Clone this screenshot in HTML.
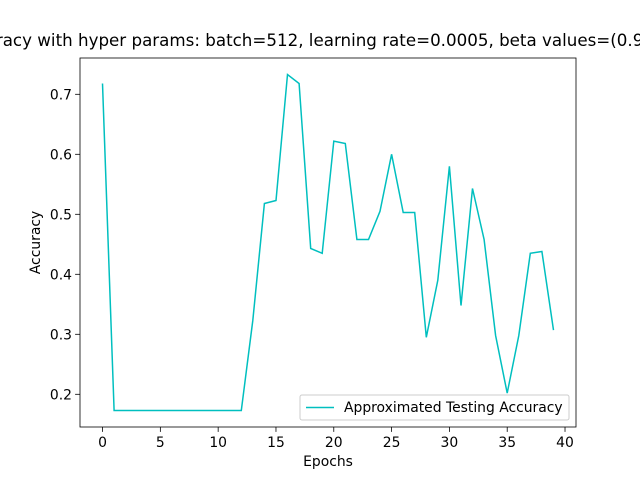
<!DOCTYPE html>
<html><head><meta charset="utf-8"><style>
body{margin:0;background:#fff}
svg text{font-family:"DejaVu Sans","Liberation Sans",sans-serif;fill:#000}
</style></head><body>
<svg id="chart" width="640" height="480" xmlns="http://www.w3.org/2000/svg">
<rect width="640" height="480" fill="#fff"/>
<text x="332" y="46" font-size="16.7" text-anchor="middle">Accuracy with hyper params: batch=512, learning rate=0.0005, beta values=(0.9, 0.999)</text>
<g id="axes"></g>
</svg>
<script>
const epochs = [0,1,2,3,4,5,6,7,8,9,10,11,12,13,14,15,16,17,18,19,20,21,22,23,24,25,26,27,28,29,30,31,32,33,34,35,36,37,38,39];
const accuracy = [0.718,0.173,0.173,0.173,0.173,0.173,0.173,0.173,0.173,0.173,0.173,0.173,0.173,0.323,0.518,0.523,0.733,0.718,0.443,0.435,0.622,0.618,0.458,0.458,0.505,0.6,0.503,0.503,0.295,0.39,0.58,0.348,0.543,0.458,0.298,0.202,0.298,0.435,0.438,0.307];
const xTicks = [0,5,10,15,20,25,30,35,40];
const yTicks = [0.2,0.3,0.4,0.5,0.6,0.7];

const L=80,R=576,T=58,B=427;
const xMin=-1.95,xMax=40.95,yMin=0.1455,yMax=0.7605;
const sx=v=>L+(v-xMin)/(xMax-xMin)*(R-L);
const sy=v=>B-(v-yMin)/(yMax-yMin)*(B-T);
const NS="http://www.w3.org/2000/svg";
const g=document.getElementById('axes');
function mk(tag,attrs){const e=document.createElementNS(NS,tag);for(const k in attrs)e.setAttribute(k,attrs[k]);g.appendChild(e);return e;}

xTicks.forEach(t=>{
  const x=sx(t);
  const tk=mk('line',{x1:x,x2:x,y1:B,y2:B+4.9,stroke:'#000','stroke-width':0.8});
  
  
  const lb=mk('text',{x:x,y:447,'text-anchor':'middle','font-size':13.9});
  lb.textContent=t;
  
  
});
yTicks.forEach(t=>{
  const y=sy(t);
  const tk=mk('line',{x1:L-4.9,x2:L,y1:y,y2:y,stroke:'#000','stroke-width':0.8});
  
  
  const lb=mk('text',{x:L-8,y:y+5,'text-anchor':'end','font-size':13.9});
  lb.textContent=t.toFixed(1);
  
  
});

const pts=epochs.map((e,i)=>sx(e).toFixed(1)+','+sy(accuracy[i]).toFixed(1)).join(' ');
const line=mk('polyline',{points:pts,fill:'none',stroke:'#00bfbf','stroke-width':1.5});



const frame=mk('rect',{x:L,y:T,width:R-L,height:B-T,fill:'none',stroke:'#000','stroke-width':0.8});



const xl=mk('text',{x:(L+R)/2,y:466,'text-anchor':'middle','font-size':13.9});
xl.textContent='Epochs';


const yl=mk('text',{x:0,y:0,'text-anchor':'middle','font-size':13.9,transform:'translate(40,'+((T+B)/2)+') rotate(-90)'});
yl.textContent='Accuracy';



const lg=mk('rect',{x:300,y:395,width:269,height:25,rx:2,fill:'#fff','fill-opacity':0.8,stroke:'#ccc','stroke-width':1});


const ll=mk('line',{x1:306,x2:334,y1:407.5,y2:407.5,stroke:'#00bfbf','stroke-width':1.5});


const lt=mk('text',{x:344,y:412,'font-size':13.9});
lt.textContent='Approximated Testing Accuracy';


</script>
</body></html>
